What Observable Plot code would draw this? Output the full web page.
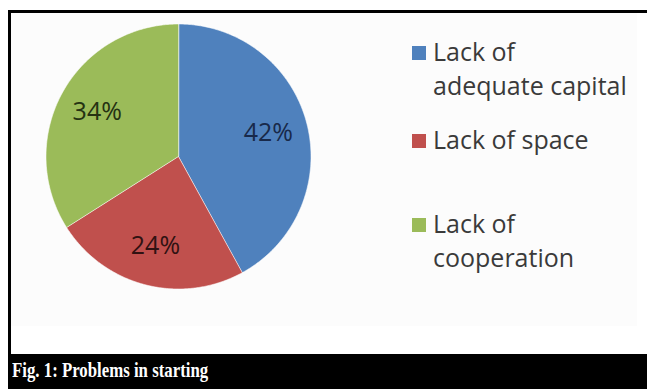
<!DOCTYPE html>
<html>
<head>
<meta charset="utf-8">
<script src="https://cdn.jsdelivr.net/npm/d3@7"></script>
<script src="https://cdn.jsdelivr.net/npm/@observablehq/plot@0.6"></script>
<style>
  html, body { margin: 0; padding: 0; background: #ffffff; }
  #wrap { position: relative; width: 647px; height: 389px; overflow: hidden; background: #ffffff; }
  #frame { position: absolute; left: 8px; top: 10px; width: 639px; height: 344px; box-sizing: border-box;
           border-top: 3px solid #000; border-left: 3px solid #000; }
  #area { position: absolute; left: 11px; top: 13px; width: 626px; height: 313px; background: #fcfcfc; }
  #chart { position: absolute; left: 0; top: 0; }
  #legend { position: absolute; left: 0; top: 0; font-family: "Open Sans", Lato, sans-serif; font-size: 25px;
            color: #3a3a3a; line-height: 34px; }
  .item { position: absolute; left: 433px; white-space: nowrap; }
  .sw { position: absolute; left: 412px; width: 14px; height: 14px; }
  #caption { position: absolute; left: 8px; top: 354px; width: 639px; height: 35px; background: #000; }
  #caption span { position: absolute; left: 4px; top: 4px; color: #fff; font-family: "Liberation Serif", "Times New Roman", serif;
                  font-weight: bold; font-size: 21px; white-space: nowrap; transform: scaleX(0.8); transform-origin: 0 0; }
</style>
</head>
<body>
<div id="wrap">
  <div id="frame"></div>
  <div id="area"></div>
  <div id="chart"></div>
  <div id="legend"></div>
  <div id="caption"><span id="captext"></span></div>
</div>
<script>
// ---- data ----
const categories = ["Lack of adequate capital", "Lack of space", "Lack of cooperation"];
const legendLines = [["Lack of", "adequate capital"], ["Lack of space"], ["Lack of", "cooperation"]];
const values = [42, 24, 34];
const labels = ["42%", "24%", "34%"];
const captionText = "Fig. 1: Problems in starting";

// ---- style ----
const colors = ["#4f81bd", "#c0504d", "#9bbb59"];
const labelColors = ["#18294a", "#301212", "#253212"];

const rows = categories.map((c, i) => ({cat: c, value: values[i], label: labels[i], lc: labelColors[i]}));
const pie = d3.pie().sort(null).value(d => d.value)(rows);

// polygon outline for each slice (angles measured clockwise from top)
const poly = [];
pie.forEach(p => {
  poly.push({cat: p.data.cat, x: 0, y: 0});
  const n = Math.max(2, Math.ceil((p.endAngle - p.startAngle) / (Math.PI / 360)));
  for (let k = 0; k <= n; k++) {
    const a = p.startAngle + (p.endAngle - p.startAngle) * k / n;
    poly.push({cat: p.data.cat, x: Math.sin(a), y: Math.cos(a)});
  }
});
const labelPts = pie.map(p => {
  const a = (p.startAngle + p.endAngle) / 2, r = 0.7;
  return {label: p.data.label, lc: p.data.lc, x: r * Math.sin(a), y: r * Math.cos(a)};
});

const chart = Plot.plot({
  width: 647,
  height: 354,
  margin: 0,
  x: {domain: [-1, 1], range: [45.5, 310.5], axis: null},
  y: {domain: [-1, 1], range: [288.5, 23.5], axis: null},
  color: {domain: categories, range: colors},
  style: {background: "transparent", overflow: "visible"},
  marks: [
    Plot.line(poly, {x: "x", y: "y", z: "cat", fill: "cat", stroke: "#ffffff", strokeWidth: 0.8, curve: "linear-closed", strokeOpacity: 0.7}),
    Plot.text(labelPts, {x: "x", y: "y", text: "label", fill: d => d.lc, fontSize: 25,
      fontFamily: "'Open Sans', Lato, sans-serif"})
  ]
});
document.getElementById("chart").appendChild(chart);

// legend (HTML)
const legend = document.getElementById("legend");
const itemTops = [34, 122, 206];
legendLines.forEach((lines, i) => {
  const sw = document.createElement("div");
  sw.className = "sw";
  sw.style.top = (itemTops[i] + 12) + "px";
  sw.style.background = colors[i];
  legend.appendChild(sw);
  const t = document.createElement("div");
  t.className = "item";
  t.style.top = itemTops[i] + "px";
  t.innerHTML = lines.join("<br>");
  legend.appendChild(t);
});
document.getElementById("captext").textContent = captionText;
</script>
</body>
</html>
